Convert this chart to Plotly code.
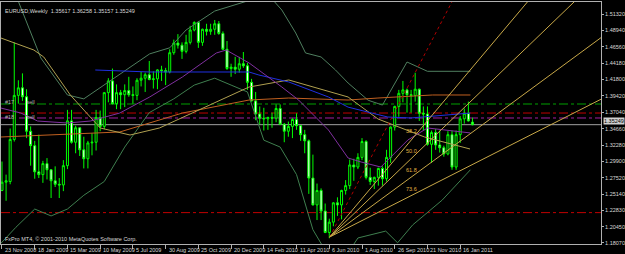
import plotly.graph_objects as go

# ---------------- data (week index 0 = 23 Nov 2008) ----------------
opens = [1.2570,1.2690,1.2700,1.3310,1.3950,1.4060,1.3930,1.3430,1.3220,1.2840,
         1.2800,1.2960,1.2870,1.2710,1.2660,1.2650,1.2930,1.3580,1.3270,1.3480,
         1.3160,1.3030,1.3260,1.3270,1.3630,1.3500,1.3990,1.4160,1.3830,1.3990,
         1.3960,1.4020,1.3960,1.3950,1.4170,1.4200,1.4250,1.4180,1.4190,1.4320,
         1.4310,1.4290,1.4570,1.4710,1.4680,1.4590,1.4720,1.4900,1.5010,1.4720,
         1.4910,1.4880,1.4910,1.4990,1.4850,1.4620,1.4340,1.4360,1.4330,1.4410,
         1.4380,1.4140,1.3870,1.3680,1.3620,1.3610,1.3630,1.3620,1.3760,1.3530,
         1.3430,1.3500,1.3600,1.3510,1.3380,1.3290,1.2750,1.2360,1.2570,1.2270,
         1.1960,1.2110,1.2390,1.2360,1.2570,1.2640,1.2940,1.2910,1.3050,1.3280,
         1.2760,1.2700,1.2760,1.2890,1.2740,1.3050,1.3490,1.3790,1.3980,1.4030,
         1.3960,1.3950,1.4040,1.3690,1.3680,1.3240,1.3410,1.3230,1.3190,1.3100,
         1.3380,1.2910,1.3380,1.3610,1.3690,1.35617]
highs = [1.2990,1.2800,1.3470,1.4720,1.4170,1.4270,1.4040,1.3500,1.3290,1.3380,
         1.3000,1.3040,1.2880,1.2920,1.2750,1.3010,1.3740,1.3740,1.3510,1.3480,
         1.3350,1.3290,1.3400,1.3740,1.3730,1.4000,1.4200,1.4340,1.4110,1.4030,
         1.4110,1.4220,1.4080,1.4200,1.4290,1.4280,1.4450,1.4300,1.4330,1.4380,
         1.4350,1.4620,1.4760,1.4840,1.4720,1.4830,1.4960,1.5025,1.5030,1.4920,
         1.4990,1.4990,1.5045,1.5030,1.4880,1.4740,1.4410,1.4510,1.4510,1.4580,
         1.4420,1.4190,1.4000,1.3790,1.3770,1.3640,1.3700,1.3820,1.3820,1.3550,
         1.3570,1.3620,1.3690,1.3520,1.3450,1.3310,1.3090,1.2670,1.2600,1.2380,
         1.2160,1.2400,1.2470,1.2580,1.2720,1.3020,1.3030,1.3110,1.3330,1.3300,
         1.2900,1.2770,1.2900,1.2920,1.3160,1.3500,1.3800,1.4030,1.4160,1.4050,
         1.4030,1.4280,1.4050,1.3790,1.3790,1.3440,1.3460,1.3440,1.3220,1.3430,
         1.3440,1.3440,1.3650,1.3760,1.3860,1.36258]
lows = [1.2560,1.2420,1.2660,1.3280,1.3830,1.3870,1.3330,1.2930,1.2740,1.2750,
        1.2680,1.2730,1.2460,1.2620,1.2460,1.2560,1.2880,1.3250,1.3110,1.3070,
        1.2890,1.2890,1.3080,1.3150,1.3430,1.3460,1.3850,1.3820,1.3750,1.3750,
        1.3780,1.3930,1.3830,1.3880,1.4080,1.4000,1.4170,1.4050,1.4040,1.4160,
        1.4100,1.4270,1.4540,1.4630,1.4480,1.4560,1.4690,1.4880,1.4640,1.4670,
        1.4820,1.4830,1.4830,1.4830,1.4610,1.4320,1.4220,1.4260,1.4280,1.4350,
        1.4030,1.3860,1.3590,1.3530,1.3440,1.3450,1.3480,1.3560,1.3520,1.3270,
        1.3350,1.3330,1.3450,1.3290,1.3110,1.2520,1.2350,1.2140,1.2140,1.1950,
        1.1876,1.2050,1.2200,1.2150,1.2510,1.2590,1.2710,1.2880,1.3010,1.2730,
        1.2650,1.2590,1.2640,1.2640,1.2700,1.2970,1.3440,1.3640,1.3850,1.3700,
        1.3700,1.3860,1.3580,1.3440,1.3220,1.2970,1.3160,1.3120,1.3060,1.3080,
        1.2870,1.2870,1.3260,1.3540,1.3570,1.35157]
closes = [1.2690,1.2710,1.3310,1.3950,1.4060,1.3930,1.3430,1.3220,1.2840,1.2800,
          1.2960,1.2870,1.2710,1.2660,1.2650,1.2930,1.3580,1.3270,1.3480,1.3160,
          1.3030,1.3260,1.3270,1.3630,1.3500,1.3990,1.4160,1.3830,1.3990,1.3960,
          1.4020,1.3960,1.3950,1.4170,1.4200,1.4250,1.4180,1.4190,1.4320,1.4310,
          1.4290,1.4570,1.4710,1.4680,1.4590,1.4720,1.4900,1.5010,1.4720,1.4910,
          1.4880,1.4910,1.4990,1.4850,1.4620,1.4340,1.4360,1.4330,1.4410,1.4380,
          1.4140,1.3870,1.3680,1.3620,1.3610,1.3630,1.3620,1.3760,1.3530,1.3430,
          1.3500,1.3600,1.3510,1.3380,1.3290,1.2750,1.2360,1.2570,1.2270,1.1960,
          1.2110,1.2390,1.2360,1.2570,1.2640,1.2940,1.2910,1.3050,1.3280,1.2760,
          1.2700,1.2760,1.2890,1.2740,1.3050,1.3490,1.3790,1.3980,1.4030,1.3960,
          1.3950,1.4040,1.3690,1.3680,1.3240,1.3410,1.3230,1.3190,1.3100,1.3380,
          1.2910,1.3380,1.3610,1.3690,1.3580,1.35249]
weeks = list(range(len(closes)))

# date labels (every 8 weeks)
date_weeks = [0, 8, 16, 24, 32, 40, 48, 56, 64, 72, 80, 88, 96, 104, 112]
date_labels = ["23 Nov 2008", "18 Jan 2009", "15 Mar 2009", "10 May 2009", "5 Jul 2009",
               "30 Aug 2009", "25 Oct 2009", "20 Dec 2009", "14 Feb 2010", "11 Apr 2010",
               "6 Jun 2010", "1 Aug 2010", "26 Sep 2010", "21 Nov 2010", "16 Jan 2011"]

price_ticks = [1.5132, 1.4894, 1.4656, 1.4418, 1.4180, 1.3942, 1.3704, 1.3466,
               1.3228, 1.2990, 1.2752, 1.2514, 1.2283, 1.2045, 1.1807]
price_labels = ["1.51320", "1.48940", "1.46560", "1.44180", "1.41800", "1.39420", "1.37040",
                "1.34660", "1.32280", "1.29900", "1.27520", "1.25140", "1.22830", "1.20450",
                "1.18070"]

# indicator lines: (week, price)
upper_w = [2, 4.1, 9.5, 16, 20, 25, 30, 36.1, 41, 45, 52, 61.6, 66, 68.4, 71.8, 74.2, 78, 81.5, 84.6, 89.5, 93, 99, 104, 114.5]
upper_p = [1.56, 1.530, 1.4493, 1.3956, 1.390, 1.410, 1.430, 1.4553, 1.4641, 1.490, 1.5175, 1.535, 1.535, 1.519, 1.4856, 1.4566, 1.4508, 1.432, 1.413, 1.388, 1.381, 1.4435, 1.430, 1.430]
lower_w = [-0.3, 3.4, 8, 12, 16, 20, 25, 30, 36, 42, 47, 52, 56, 60, 64, 68, 72, 76, 80, 85, 87, 93.8, 96.7, 100.4, 107.6, 114.5]
lower_p = [1.180, 1.2035, 1.230, 1.220, 1.230, 1.250, 1.270, 1.320, 1.370, 1.390, 1.410, 1.420, 1.410, 1.400, 1.330, 1.320, 1.280, 1.200, 1.160, 1.170, 1.188, 1.198, 1.181, 1.207, 1.243, 1.287]
purple_w = [-0.3, 4.6, 8.7, 16, 21.6, 28.8, 36.1, 44.1, 52.4, 54.8, 60.4, 62.8, 68.4, 72.5, 79.8, 84.6, 87.8, 92.6, 96, 99.2, 104, 114.5]
purple_p = [1.3767, 1.3694, 1.3578, 1.3549, 1.3578, 1.3694, 1.3927, 1.4217, 1.4566, 1.4609, 1.4421, 1.4319, 1.4072, 1.3883, 1.3448, 1.3041, 1.2983, 1.2910, 1.3114, 1.3302, 1.3477, 1.3405]
blue_w = [22.8, 36.1, 60.4, 62.8, 70.1, 79.8, 84.6, 94.3, 99.9, 114.5]
blue_p = [1.4319, 1.4290, 1.4290, 1.4246, 1.4145, 1.3927, 1.3780, 1.3636, 1.3622, 1.3694]
orange_w = [-0.3, 28.8, 44.1, 60.4, 70.1, 84.6, 91.9, 105.2, 114.5]
orange_p = [1.3346, 1.3419, 1.3694, 1.3883, 1.3912, 1.3883, 1.3912, 1.3956, 1.3956]
olive_w = [-0.3, 7.8, 10.2, 16.7, 24, 31.3, 38.5, 42.7, 60.4, 70.1, 84.6, 91.9, 103.3, 114.4]
olive_p = [1.4784, 1.4609, 1.4508, 1.3956, 1.3477, 1.3375, 1.3477, 1.3593, 1.4072, 1.4174, 1.3927, 1.3608, 1.3346, 1.3172]

# horizontal levels
level_prices = [1.3825, 1.3694, 1.3622, 1.2248]
level_colors = ["#00a000", "#c00000", "#a020a0", "#c00000"]
bid_price = 1.35249

# fibonacci fan anchors
fan_w = [80.1, 101.0]
fan_p = [1.1894, 1.4282]
fan_levels = [0.382, 0.5, 0.618, 0.736]
fan_texts = ["38.2", "50.0", "61.8", "73.6"]

# ---------------- figure ----------------
X_MIN, X_MAX = -0.242, 146.42
Y_MIN, Y_MAX = 1.17924, 1.53062

fig = go.Figure()

line_specs = [
    (upper_w, upper_p, "#4f7f5f"),
    (lower_w, lower_p, "#3f7f4f"),
    (orange_w, orange_p, "#c06020"),
    (olive_w, olive_p, "#b0a050"),
    (blue_w, blue_p, "#2030e0"),
    (purple_w, purple_p, "#8030a0"),
]
for xs, ys, col in line_specs:
    fig.add_trace(go.Scatter(x=xs, y=ys, mode="lines", line=dict(color=col, width=1),
                             hoverinfo="skip", showlegend=False))

# fan lines
w0, p0 = fan_w[0], fan_p[0]
w1, p1 = fan_w[1], fan_p[1]
far = X_MAX + 5
base_slope = (p1 - p0) / (w1 - w0)
fig.add_trace(go.Scatter(x=[w0, far], y=[p0, p0 + base_slope * (far - w0)], mode="lines",
                         line=dict(color="#b00000", width=1, dash="dot"),
                         hoverinfo="skip", showlegend=False))
for lv in fan_levels:
    pl = p1 - lv * (p1 - p0)
    s = (pl - p0) / (w1 - w0)
    fig.add_trace(go.Scatter(x=[w0, far], y=[p0, p0 + s * (far - w0)], mode="lines",
                             line=dict(color="#c8a848", width=1),
                             hoverinfo="skip", showlegend=False))

fig.add_trace(go.Candlestick(
    x=weeks, open=opens, high=highs, low=lows, close=closes,
    increasing=dict(line=dict(color="#00ff00", width=1), fillcolor="#000000"),
    decreasing=dict(line=dict(color="#00ff00", width=1), fillcolor="#ffffff"),
    whiskerwidth=0, hoverinfo="skip", showlegend=False))

shapes = []
for pr, col in zip(level_prices, level_colors):
    shapes.append(dict(type="line", xref="paper", x0=0, x1=1, yref="y", y0=pr, y1=pr,
                       line=dict(color=col, width=1, dash="dashdot"), layer="below"))
shapes.append(dict(type="line", xref="paper", x0=0, x1=1, yref="y", y0=bid_price, y1=bid_price,
                   line=dict(color="#a0a0a0", width=1), layer="below"))

font_small = dict(family="Liberation Sans, Arial, sans-serif", size=5.5, color="#d8d8d8")
ann = []
ann.append(dict(text="EURUSD,Weekly  1.35617 1.36258 1.35157 1.35249", xref="paper", yref="paper",
                x=0.004, y=0.985, xanchor="left", yanchor="top", showarrow=False, font=font_small))
ann.append(dict(text="FxPro MT4, © 2001-2010 MetaQuotes Software Corp.", xref="paper", yref="paper",
                x=0.003, y=0.002, xanchor="left", yanchor="bottom", showarrow=False, font=font_small))
ann.append(dict(text="#17        sell", xref="paper", yref="y", x=0.004, y=level_prices[0] + 0.003,
                xanchor="left", yanchor="middle", showarrow=False, font=dict(font_small, color="#b0b0b0")))
ann.append(dict(text="#18        sell", xref="paper", yref="y", x=0.004, y=level_prices[2] + 0.001,
                xanchor="left", yanchor="middle", showarrow=False, font=dict(font_small, color="#b0b0b0")))
for lv, t in zip(fan_levels, fan_texts):
    pl = p1 - lv * (p1 - p0)
    ann.append(dict(text=t, x=w1 - 1.0, y=pl + 0.006, xref="x", yref="y", xanchor="center",
                    yanchor="middle", showarrow=False,
                    font=dict(family="Liberation Sans, Arial", size=5.5, color="#e0b040")))
for w, t in zip(date_weeks, date_labels):
    ann.append(dict(text=t, x=w, y=-0.005, xref="x", yref="paper", xanchor="left", yanchor="top",
                    xshift=1, showarrow=False, font=font_small))
ann.append(dict(text="1.35249", x=1.0, y=bid_price, xref="paper", yref="y", xanchor="left",
                yanchor="middle", xshift=2, yshift=4, showarrow=False, bgcolor="#d0d0d0",
                font=dict(family="Liberation Sans, Arial", size=5.5, color="#000000"), borderpad=0))

fig.update_layout(
    width=625, height=254,
    margin=dict(l=0, r=20, t=2, b=10),
    paper_bgcolor="#000000", plot_bgcolor="#000000",
    shapes=shapes, annotations=ann,
    xaxis=dict(range=[X_MIN, X_MAX], rangeslider=dict(visible=False), showgrid=False, zeroline=False,
               showline=True, mirror=True, linecolor="#b0b0b0", linewidth=1,
               tickvals=date_weeks, ticks="outside", ticklen=4, tickcolor="#b0b0b0",
               showticklabels=False, fixedrange=True),
    yaxis=dict(range=[Y_MIN, Y_MAX], side="right", showgrid=False, zeroline=False,
               showline=True, mirror=True, linecolor="#b0b0b0", linewidth=1,
               tickvals=price_ticks, ticktext=price_labels, ticks="outside", ticklen=2,
               tickcolor="#b0b0b0", tickfont=font_small, fixedrange=True),
)

fig.write_html("out.html")
